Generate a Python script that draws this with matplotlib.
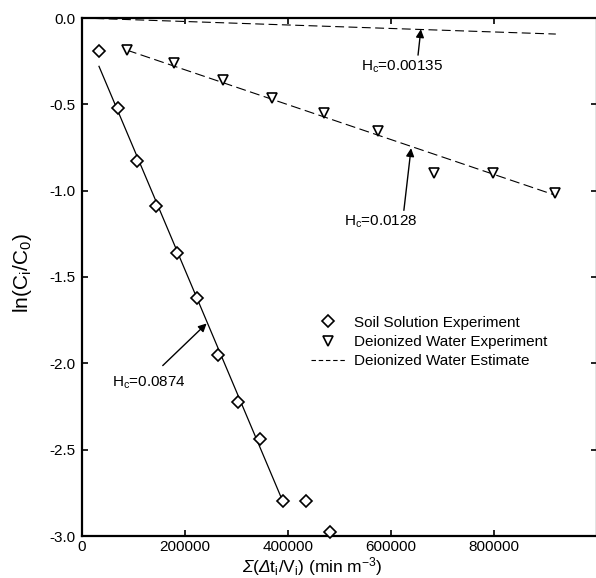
import matplotlib
matplotlib.use("Agg")
import matplotlib.pyplot as plt
from matplotlib.lines import Line2D

plt.rcParams['font.family'] = ['Liberation Sans', 'DejaVu Sans']
plt.rcParams['mathtext.fontset'] = 'custom'
plt.rcParams['mathtext.rm'] = 'Liberation Sans'
plt.rcParams['mathtext.it'] = 'Liberation Sans:italic'
plt.rcParams['mathtext.sf'] = 'Liberation Sans:italic'
plt.rcParams['axes.unicode_minus'] = False

# Soil solution experiment (diamonds)
soil_x = [32900, 69700, 106500, 143300, 183900, 222600, 263300, 302000, 346600, 391100, 435600, 482000]
soil_y = [-0.191, -0.522, -0.829, -1.090, -1.363, -1.624, -1.949, -2.222, -2.436, -2.796, -2.796, -2.976]

# Deionized water experiment (triangles)
diw_x = [87100, 178100, 273000, 369800, 470500, 575000, 683500, 797600, 917700]
diw_y = [-0.186, -0.261, -0.360, -0.464, -0.551, -0.655, -0.899, -0.899, -1.015]

# Fit lines
soil_fit_x = [33000, 390000]
soil_fit_y = [-0.28, -2.80]
diw_fit_x = [87100, 917700]
diw_fit_y = [-0.186, -1.025]
est_x = [0, 920000]
est_y = [0.0, -0.093]

xticks = [0, 200000, 400000, 600000, 800000]
yticks = [0.0, -0.5, -1.0, -1.5, -2.0, -2.5, -3.0]

W, H = 596, 578
fig = plt.figure(figsize=(W/100, H/100), dpi=100)
ax = fig.add_axes([82/W, (H-536)/H, 515/W, 518/H])

ax.plot(soil_fit_x, soil_fit_y, color='black', lw=0.9)
ax.plot(diw_fit_x, diw_fit_y, color='black', lw=0.8, dashes=(9, 4))
ax.plot(est_x, est_y, color='black', lw=0.8, dashes=(8, 4))

ax.plot(soil_x, soil_y, ls='none', marker='D', ms=6.3, mfc='white', mec='black', mew=1.2, clip_on=False, zorder=5)
ax.plot(diw_x, diw_y, ls='none', marker='v', ms=7.5, mfc='white', mec='black', mew=1.2, clip_on=False, zorder=5)

ax.set_xlim(0, 1000000)
ax.set_ylim(-3.0, 0.0)
ax.set_xticks(xticks)
ax.set_xticklabels([str(v) for v in xticks])
ax.set_yticks(yticks)
ax.set_yticklabels(['%.1f' % v for v in yticks])
ax.tick_params(direction='in', length=4, width=1.2, labelsize=11, top=True, right=True, pad=5)
ax.tick_params(axis='x', pad=3)

for s in ax.spines.values():
    s.set_linewidth(1.6)

ap = dict(arrowstyle='-|>', color='black', lw=1.0, mutation_scale=12, shrinkA=0, shrinkB=0)
ax.annotate('', xy=(658000, -0.065), xytext=(652500, -0.215), arrowprops=ap)
ax.text(621500, -0.284, 'H$_\\mathrm{c}$=0.00135', fontsize=11, ha='center', va='center')
ax.annotate('', xy=(639000, -0.754), xytext=(625000, -1.114), arrowprops=ap)
ax.text(581000, -1.183, 'H$_\\mathrm{c}$=0.0128', fontsize=11, ha='center', va='center')
ax.annotate('', xy=(242000, -1.769), xytext=(156800, -2.013), arrowprops=ap)
ax.text(129700, -2.111, 'H$_\\mathrm{c}$=0.0874', fontsize=11, ha='center', va='center')

handles = [Line2D([], [], ls='none', marker='D', ms=6.3, mfc='white', mec='black', mew=1.2),
           Line2D([], [], ls='none', marker='v', ms=7.5, mfc='white', mec='black', mew=1.2),
           Line2D([], [], color='black', lw=0.8, dashes=(4, 2.5))]
ax.legend(handles, ['Soil Solution Experiment', 'Deionized Water Experiment', 'Deionized Water Estimate'],
          loc='upper left', bbox_to_anchor=(0.43, 0.44), frameon=False, fontsize=11,
          handlelength=2.2, handletextpad=0.6, labelspacing=0.35, borderpad=0)

fig.text(22/W, 1-273/H, 'ln(C$_\\mathrm{i}$/C$_\\mathrm{0}$)', rotation=90, ha='center', va='center', fontsize=15)
fig.text(312/W, 0.5/H, '$\\mathsf{Σ}$($\\mathsf{Δ}$t$_\\mathrm{i}$/V$_\\mathrm{i}$) (min m$^{\\mathrm{-3}}$)',
         ha='center', va='bottom', fontsize=12.5)

fig.savefig('out.png', dpi=100)
